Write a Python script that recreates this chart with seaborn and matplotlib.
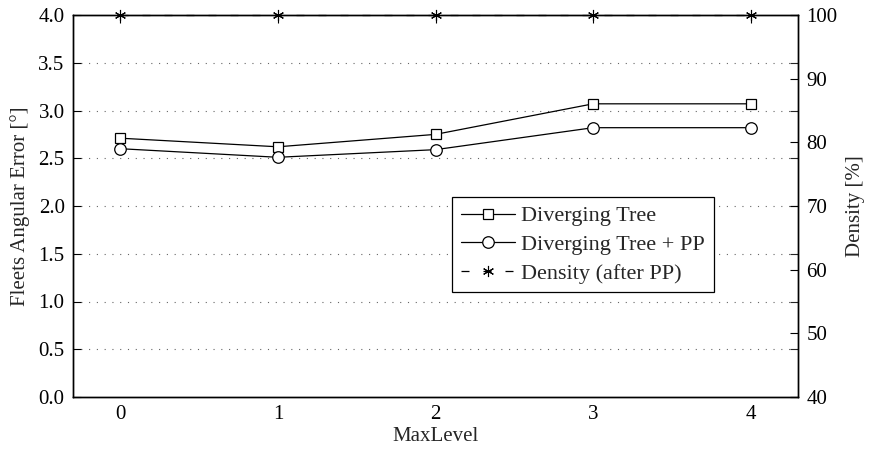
import matplotlib
matplotlib.use("Agg")
import matplotlib.pyplot as plt
import seaborn as sns
import pandas as pd
from matplotlib.lines import Line2D

sns.set_theme(style="white")
plt.rcParams["font.family"] = ["Liberation Serif", "DejaVu Serif"]

# MaxLevel settings and measured values
max_level = [0, 1, 2, 3, 4]
err_tree = [2.71, 2.62, 2.75, 3.07, 3.07]
err_tree_pp = [2.60, 2.51, 2.59, 2.82, 2.82]
density_pp = [100, 100, 100, 100, 100]

left_ticks = [0.0, 0.5, 1.0, 1.5, 2.0, 2.5, 3.0, 3.5, 4.0]
right_ticks = [40, 50, 60, 70, 80, 90, 100]

df = pd.DataFrame({
    "MaxLevel": max_level,
    "tree": err_tree,
    "tree_pp": err_tree_pp,
    "density": density_pp,
})

LW = 0.9
SQ = dict(marker="s", markersize=6.5, markerfacecolor="white",
          markeredgecolor="black", markeredgewidth=0.9)
CI = dict(marker="o", markersize=8.3, markerfacecolor="white",
          markeredgecolor="black", markeredgewidth=0.9)
AST = dict(marker=(6, 2, 0), markersize=8, markerfacecolor="black",
           markeredgecolor="black", markeredgewidth=0.8)
DENS_DASH = (0, (6.4, 11.2))

fig = plt.figure(figsize=(8.70, 4.53), dpi=100)
ax = fig.add_axes([73 / 870, 56 / 453, 725 / 870, 382 / 453])
ax2 = ax.twinx()

# horizontal dotted grid at the left-axis ticks
for yv in left_ticks[1:-1]:
    ax.axhline(yv, color="#666666", lw=0.8, ls=(0, (1, 6)), zorder=0)

sns.lineplot(data=df, x="MaxLevel", y="tree", ax=ax, color="black", lw=LW, **SQ)
sns.lineplot(data=df, x="MaxLevel", y="tree_pp", ax=ax, color="black", lw=LW, **CI)
sns.lineplot(data=df, x="MaxLevel", y="density", ax=ax2, color="black", lw=LW,
             linestyle=DENS_DASH, clip_on=False, **AST)

ax.set_xlim(-0.3, 4.3)
ax.set_ylim(0, 4)
ax2.set_ylim(40, 100)
ax.set_xticks(max_level)
ax.set_yticks(left_ticks)
ax.set_yticklabels([f"{v:.1f}" for v in left_ticks])
ax2.set_yticks(right_ticks)
ax2.set_yticklabels([str(v) for v in right_ticks])

fs = 15
ax.set_xlabel("MaxLevel", fontsize=fs, labelpad=2)
ax.set_ylabel("Fleets Angular Error [°]", fontsize=fs, labelpad=6)
ax2.set_ylabel("Density [%]", fontsize=fs, labelpad=6)

ax.tick_params(axis="both", direction="in", length=6, width=0.8, labelsize=fs,
               top=True, right=False, colors="black", pad=6)
ax2.tick_params(axis="y", direction="in", length=6, width=0.8, labelsize=fs,
                colors="black", pad=6)
# left ticks mirrored on the right edge
ax_mirror = ax.secondary_yaxis("right")
ax_mirror.set_yticks(left_ticks)
ax_mirror.tick_params(direction="in", length=6, width=0.8, labelright=False)
ax_mirror.spines["right"].set_visible(False)

for a in (ax, ax2):
    for s in a.spines.values():
        s.set_color("black")
        s.set_linewidth(1.0)

handles = [
    Line2D([], [], color="black", lw=LW, **SQ),
    Line2D([], [], color="black", lw=LW, **CI),
    Line2D([], [], color="black", lw=LW, linestyle=DENS_DASH, **AST),
]
labels = ["Diverging Tree", "Diverging Tree + PP", "Density (after PP)"]
leg = ax2.legend(handles, labels, loc="upper left",
                 bbox_to_anchor=((452 - 73) / 725, (397 - 197) / 382),
                 fontsize=16, frameon=True, fancybox=False, edgecolor="black",
                 framealpha=1, borderpad=0.4, labelspacing=0.36,
                 handlelength=2.45, handletextpad=0.27, borderaxespad=0)
leg.get_frame().set_linewidth(0.9)

fig.savefig("out.png", dpi=100)
